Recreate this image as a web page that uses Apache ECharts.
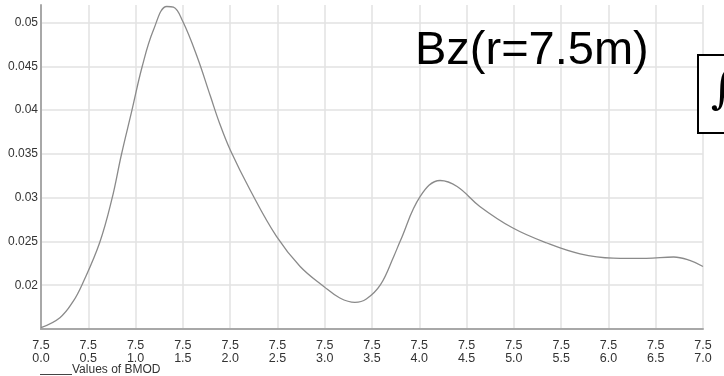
<!DOCTYPE html>
<html>
<head>
<meta charset="utf-8">
<script src="https://cdn.jsdelivr.net/npm/echarts@6/dist/echarts.min.js"></script>
<style>
  html, body { margin: 0; padding: 0; background: #ffffff; }
  #chart { width: 724px; height: 376px; }
</style>
</head>
<body>
<div id="chart"></div>
<script>
// Field magnitude sampled along the run, plotted against position
const seriesName = 'Values of BMOD';
const positions = [0, 0.2, 0.34, 0.44, 0.62, 0.75, 0.85, 0.96, 1.07, 1.19, 1.33, 1.40, 1.5, 1.65, 1.79, 1.89, 2.0, 2.21, 2.49, 2.74, 2.99, 3.16, 3.32, 3.44, 3.59, 3.73, 3.8, 4.01, 4.22, 4.4, 4.64, 4.99, 5.35, 5.7, 6.05, 6.4, 6.69, 6.86, 7.0];
const bmod = [0.01515, 0.01629, 0.01815, 0.0202, 0.02485, 0.02985, 0.0349, 0.0399, 0.04498, 0.04917, 0.05183, 0.05176, 0.05011, 0.04612, 0.04163, 0.03844, 0.03547, 0.0309, 0.02557, 0.02214, 0.01986, 0.01854, 0.01804, 0.01842, 0.02006, 0.02329, 0.02508, 0.03014, 0.03196, 0.03128, 0.029, 0.02653, 0.02482, 0.02359, 0.0231, 0.02306, 0.02322, 0.02283, 0.02214];

// Axis tick labels
const xTickLabels = ['7.5\n0.0', '7.5\n0.5', '7.5\n1.0', '7.5\n1.5', '7.5\n2.0', '7.5\n2.5', '7.5\n3.0', '7.5\n3.5', '7.5\n4.0', '7.5\n4.5', '7.5\n5.0', '7.5\n5.5', '7.5\n6.0', '7.5\n6.5', '7.5\n7.0'];
const yTickLabels = ['0.02', '0.025', '0.03', '0.035', '0.04', '0.045', '0.05'];
const annotation = 'Bz(r=7.5m)';

const chart = echarts.init(document.getElementById('chart'), null, { renderer: 'canvas' });

const font = 'Liberation Sans, Arial, sans-serif';

chart.setOption({
  backgroundColor: '#ffffff',
  animation: false,
  grid: { left: 41, right: 21, top: 5, height: 324, containLabel: false },
  xAxis: {
    type: 'value',
    min: 0,
    max: 7,
    interval: 0.5,
    axisLine: { show: true, lineStyle: { color: '#a8a8a8', width: 2 } },
    axisTick: { show: false },
    axisLabel: {
      color: '#333333',
      fontFamily: font,
      fontSize: 12.5,
      lineHeight: 13,
      margin: 10,
      formatter: (v) => xTickLabels[Math.round(v / 0.5)] || ''
    },
    splitLine: { show: true, lineStyle: { color: '#e2e2e2', width: 1.5 } }
  },
  yAxis: {
    type: 'value',
    min: 0.015,
    max: 0.052,
    interval: 0.005,
    axisLine: { show: true, lineStyle: { color: '#a8a8a8', width: 2 } },
    axisTick: { show: false },
    axisLabel: {
      color: '#333333',
      fontFamily: font,
      fontSize: 12,
      margin: 3,
      showMaxLabel: false,
      formatter: (v) => {
        const s = String(+v.toFixed(3));
        return yTickLabels.indexOf(s) >= 0 ? s : '';
      }
    },
    splitLine: { show: true, showMaxLine: false, lineStyle: { color: '#e2e2e2', width: 1.5 } }
  },
  series: [{
    name: seriesName,
    type: 'line',
    data: positions.map((x, i) => [x, bmod[i]]),
    showSymbol: false,
    smooth: 0.4,
    lineStyle: { color: '#8a8a8a', width: 1.3 },
    z: 3
  }],
  graphic: [
    {
      // series key: a short rule followed by the series name
      type: 'line',
      shape: { x1: 40, y1: 374.5, x2: 72, y2: 374.5 },
      style: { stroke: '#444444', lineWidth: 1 }
    },
    {
      type: 'text',
      left: 72,
      top: 364,
      style: {
        text: seriesName,
        fill: '#333333',
        font: '12px ' + font
      }
    },
    {
      type: 'text',
      x: 415,
      y: 51,
      style: {
        text: annotation,
        fill: '#000000',
        font: '47px ' + font,
        verticalAlign: 'middle'
      },
      z: 10
    },
    {
      type: 'rect',
      shape: { x: 698, y: 55, width: 60, height: 78 },
      style: { fill: '#ffffff', stroke: '#000000', lineWidth: 2 },
      z: 10
    },
    {
      type: 'text',
      x: 711,
      y: 92,
      style: {
        text: '\u222B',
        fill: '#000000',
        font: '44px DejaVu Serif, serif',
        verticalAlign: 'middle'
      },
      z: 11
    }
  ]
});
</script>
</body>
</html>
